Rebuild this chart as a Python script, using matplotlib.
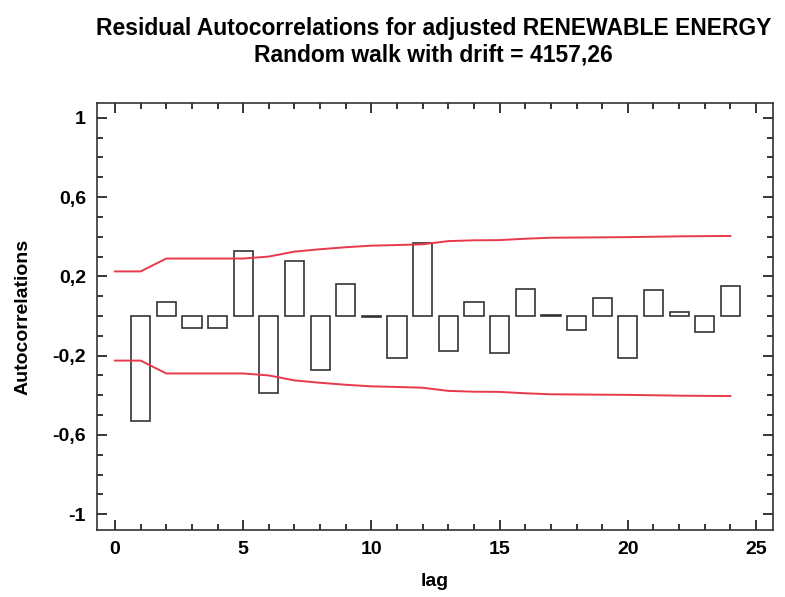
import matplotlib.pyplot as plt
from matplotlib.ticker import MultipleLocator, FuncFormatter

# residual autocorrelations (lags 1..24)
lags = list(range(1, 25))
acf = [-0.53, 0.07, -0.06, -0.06, 0.33, -0.39, 0.28, -0.27, 0.16, -0.005,
       -0.21, 0.37, -0.175, 0.07, -0.185, 0.135, 0.005, -0.07, 0.09, -0.21,
       0.13, 0.02, -0.08, 0.15]

# probability limits (lags 0..24)
lim_lags = list(range(0, 25))
upper = [0.225, 0.225, 0.29, 0.29, 0.29, 0.29, 0.30, 0.325, 0.337, 0.347,
         0.355, 0.358, 0.362, 0.378, 0.382, 0.383, 0.39, 0.395, 0.396, 0.397,
         0.398, 0.40, 0.402, 0.403, 0.404]
lower = [-u for u in upper]

plt.rcParams['font.family'] = ['Liberation Sans', 'DejaVu Sans']
plt.rcParams['font.weight'] = 'bold'

fig = plt.figure(figsize=(7.85, 5.97), dpi=100)
ax = fig.add_axes([0.1236, 0.1122, 0.8611, 0.7153])

ax.bar(lags, acf, width=0.75, facecolor='none', edgecolor='#333333', lw=1.2)
ax.plot(lim_lags, upper, c='#e8394a', lw=1.4)
ax.plot(lim_lags, lower, c='#e8394a', lw=1.4)

ax.set_xlim(-0.7, 25.66)
ax.set_ylim(-1.08, 1.075)
ax.xaxis.set_major_locator(MultipleLocator(5))
ax.xaxis.set_minor_locator(MultipleLocator(1))
ax.set_yticks([-1, -0.6, -0.2, 0.2, 0.6, 1])
ax.yaxis.set_minor_locator(MultipleLocator(0.1))
ax.yaxis.set_major_formatter(FuncFormatter(lambda v, p: ('%g' % round(v, 1)).replace('.', ',')))
ax.tick_params(which='both', direction='in', top=True, right=True, labelsize=14, width=1.1, pad=8)
ax.tick_params(which='major', length=7)
ax.tick_params(which='minor', length=4)
for s in ax.spines.values():
    s.set_linewidth(1.2)
    s.set_color('#333333')

ax.set_xlabel('lag', fontsize=14, fontweight='bold', labelpad=11)
ax.set_ylabel('Autocorrelations', fontsize=14, fontweight='bold', labelpad=15)
fig.suptitle('Residual Autocorrelations for adjusted RENEWABLE ENERGY\nRandom walk with drift = 4157,26',
             x=0.552, y=0.972, fontsize=16.5, fontweight='bold', linespacing=1.2)

fig.savefig('out.png', dpi=100)
